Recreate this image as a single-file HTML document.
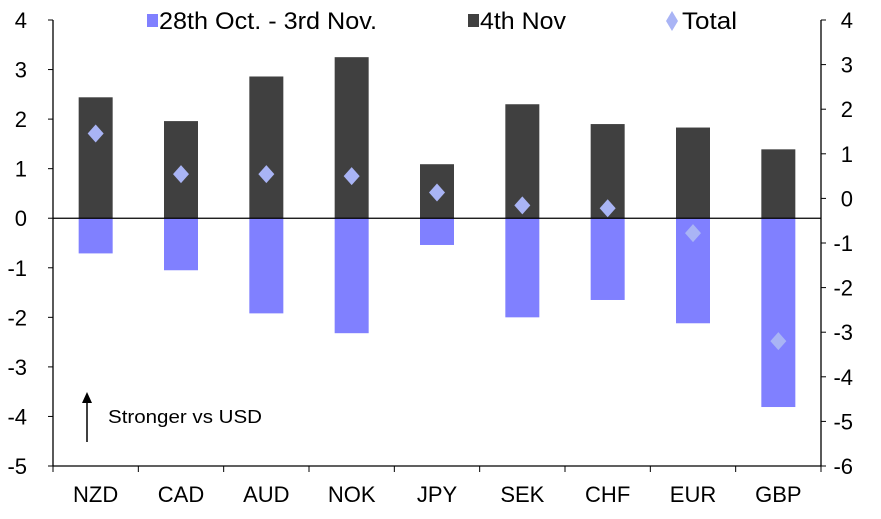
<!DOCTYPE html>
<html><head><meta charset="utf-8"><style>
body{margin:0;background:#fff;}
svg text{font-family:"Liberation Sans",Arial,sans-serif;fill:#000;}
</style></head><body>
<svg id="chart" width="881" height="514" xmlns="http://www.w3.org/2000/svg">
<g id="g"></g>
</svg>
<script>
const categories=["NZD","CAD","AUD","NOK","JPY","SEK","CHF","EUR","GBP"];
const weekValues=[-0.71,-1.05,-1.92,-2.32,-0.54,-2.0,-1.65,-2.12,-3.81];
const nov4Values=[2.44,1.96,2.86,3.25,1.09,2.3,1.9,1.83,1.39];
const totalValues=[1.71,0.89,0.89,0.85,0.52,0.26,0.2,-0.3,-2.48];
const leftTicks=[4,3,2,1,0,-1,-2,-3,-4,-5];
const rightTicks=[4,3,2,1,0,-1,-2,-3,-4,-5,-6];
const NS="http://www.w3.org/2000/svg";
const g=document.getElementById('g');
const X0=53,X1=821,YT=20,YB=466;
const yL=v=>YT+(4-v)*(YB-YT)/9;
const yR=v=>YT+(4-v)*(YB-YT)/10;
const bw=(X1-X0)/categories.length;
const xC=i=>X0+bw*(i+0.5);
function el(t,a,txt){const e=document.createElementNS(NS,t);for(const k in a)e.setAttribute(k,a[k]);if(txt!==undefined)e.textContent=txt;g.appendChild(e);return e;}
categories.forEach((c,i)=>{
 let b=el('rect',{x:xC(i)-17,y:yL(0),width:34,height:yL(weekValues[i])-yL(0),fill:'#8080ff'});
 
 
 let d=el('rect',{x:xC(i)-17,y:yL(nov4Values[i]),width:34,height:yL(0)-yL(nov4Values[i]),fill:'#404040'});
 
 
});
let z=el('line',{x1:X0,x2:X1,y1:yL(0),y2:yL(0),stroke:'#000','stroke-width':1.3});


categories.forEach((c,i)=>{
 const x=xC(i),y=yL(totalValues[i]);
 let p=el('polygon',{points:`${x},${y-9} ${x+8},${y} ${x},${y+9} ${x-8},${y}`,fill:'#a9b4f5'});
 
 
});
let al=el('line',{x1:X0,x2:X0,y1:YT,y2:YB,stroke:'#000','stroke-width':1.3});


let ar=el('line',{x1:X1,x2:X1,y1:YT,y2:YB,stroke:'#000','stroke-width':1.3});


let ab=el('line',{x1:X0,x2:X1,y1:YB,y2:YB,stroke:'#000','stroke-width':1.3});


leftTicks.forEach(v=>{
 el('line',{x1:X0-5,x2:X0,y1:yL(v),y2:yL(v),stroke:'#000'});
 let t=el('text',{x:27,y:yL(v)+8,'text-anchor':'end','font-size':22},String(v));
 
 
});
rightTicks.forEach(v=>{
 el('line',{x1:X1,x2:X1+5,y1:yR(v),y2:yR(v),stroke:'#000'});
 let t=el('text',{x:853,y:yR(v)+8,'text-anchor':'end','font-size':22},String(v));
 
 
});
for(let i=0;i<=categories.length;i++) el('line',{x1:X0+bw*i,x2:X0+bw*i,y1:YB,y2:YB+6,stroke:'#000'});
categories.forEach((c,i)=>{
 let t=el('text',{x:xC(i),y:502,'text-anchor':'middle','font-size':22},c);
 
 
});
const lg=[["#8080ff","rect",147,"28th Oct. - 3rd Nov.",218],["#404040","rect",468,"4th Nov",86],["#a9b4f5","dia",666,"Total",55]];
lg.forEach(([col,sh,x,lab,w])=>{
 if(sh==='rect') el('rect',{x:x,y:14,width:11,height:13,fill:col});
 else el('polygon',{points:`${x+6},11 ${x+12},21 ${x+6},31 ${x},21`,fill:col});
 let t=el('text',{x:sh==='rect'?x+12:x+16,y:29,'font-size':24,textLength:w,lengthAdjust:'spacingAndGlyphs'},lab);
 
 
});
let an=el('line',{x1:87,x2:87,y1:442,y2:400,stroke:'#000','stroke-width':1.5});


el('polygon',{points:'87,392 82,403 92,403',fill:'#000'});
let at=el('text',{x:108,y:423,'font-size':18,textLength:154,lengthAdjust:'spacingAndGlyphs'},'Stronger vs USD');


</script>
</body></html>
